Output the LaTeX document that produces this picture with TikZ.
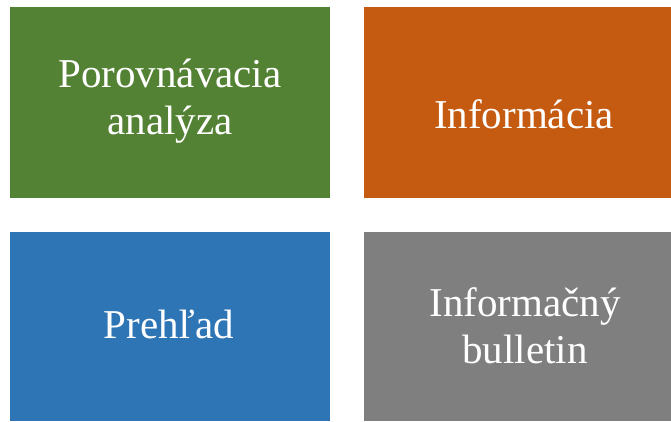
\documentclass[tikz,border=0pt]{standalone}
\usepackage{fontspec}
\setmainfont{Liberation Serif}
\definecolor{tilegreen}{HTML}{548235}
\definecolor{tileorange}{HTML}{C55A11}
\definecolor{tileblue}{HTML}{2E75B6}
\definecolor{tilegray}{HTML}{7F7F7F}
\begin{document}
\begin{tikzpicture}[x=1pt,y=1pt]
\tikzset{tile/.style={anchor=north west, inner sep=0pt, outer sep=0pt, draw=none}}
\tikzset{tiletext/.style={text=white, align=center, inner sep=0pt, font=\fontsize{41}{47}\selectfont}}
\useasboundingbox (0,0) rectangle (671,-421);
% tiles
\node[tile, fill=tilegreen, minimum width=320pt, minimum height=191pt] (analyza) at (10,-7) {};
\node[tile, fill=tileorange, minimum width=307pt, minimum height=191pt] (informacia) at (364,-7) {};
\node[tile, fill=tileblue, minimum width=320pt, minimum height=189pt] (prehlad) at (10,-232) {};
\node[tile, fill=tilegray, minimum width=307pt, minimum height=189pt] (bulletin) at (364,-232) {};
% texts
\node[tiletext] (analyzatext) at (170,-101) {Porovnávacia\\analýza};
\node[tiletext] (informaciatext) at (524,-114) {Informácia};
\node[tiletext] (prehladtext) at (169,-324) {Prehľad};
\node[tiletext] (bulletintext) at (525,-326) {Informačný\\bulletin};
\end{tikzpicture}
\end{document}
